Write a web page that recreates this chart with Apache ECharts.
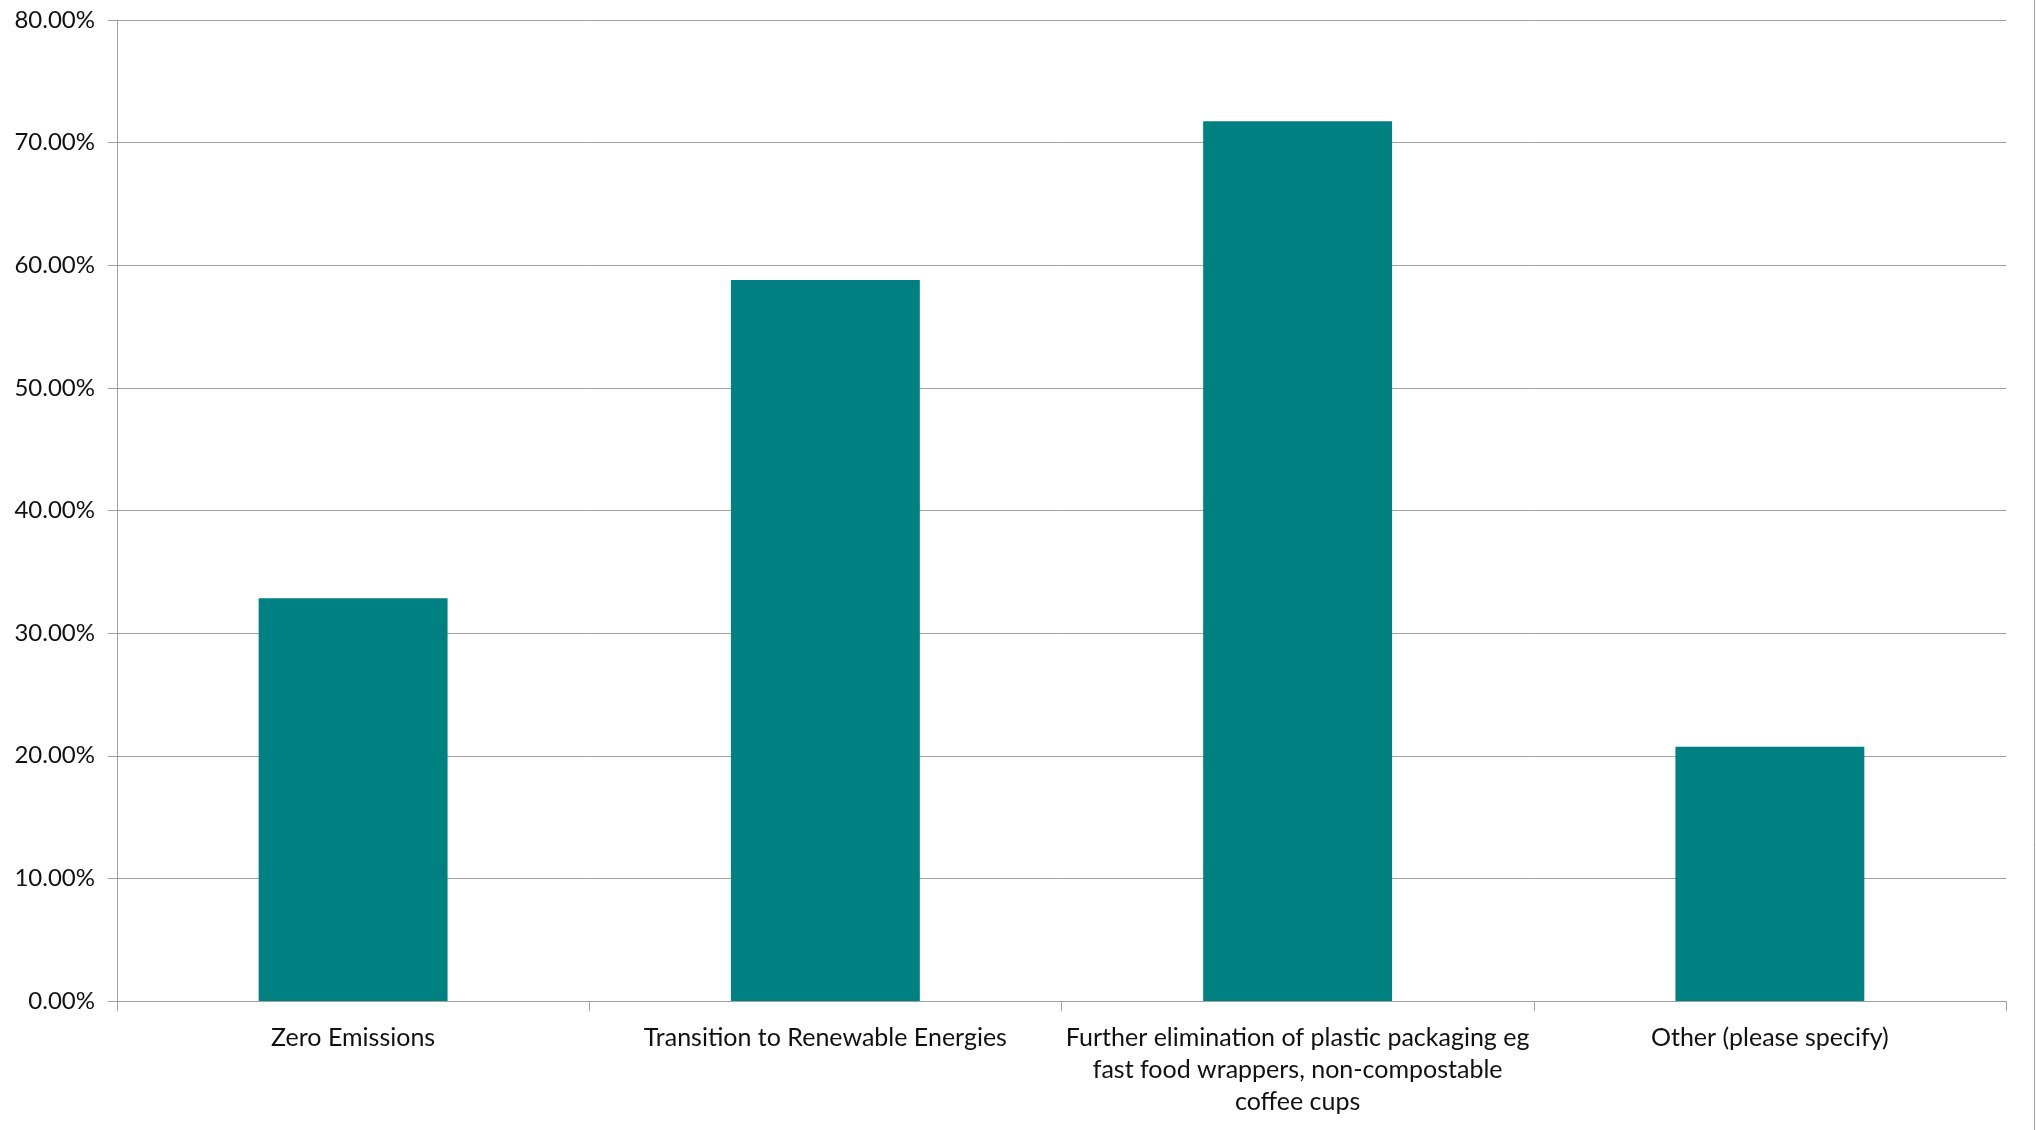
<!DOCTYPE html>
<html>
<head>
<meta charset="utf-8">
<script src="https://cdn.jsdelivr.net/npm/echarts@6/dist/echarts.min.js"></script>
<style>
html,body{margin:0;padding:0;background:#fff;}
#chart{width:2036px;height:1130px;}
</style>
</head>
<body>
<div id="chart"></div>
<script>
var categories = [
  "Zero Emissions",
  "Transition to Renewable Energies",
  "Further elimination of plastic packaging eg\nfast food wrappers, non-compostable\ncoffee cups",
  "Other (please specify)"
];
var values = [32.85, 58.79, 71.74, 20.74];
var yMin = 0, yMax = 80, yStep = 10;

var FONT = "Lato, 'Open Sans', sans-serif";
var chart = echarts.init(document.getElementById('chart'), null, {renderer: 'canvas'});
chart.setOption({
  animation: false,
  backgroundColor: '#ffffff',
  grid: {left: 117, right: 30, top: 20, bottom: 129, containLabel: false},
  xAxis: {
    type: 'category',
    data: categories,
    boundaryGap: true,
    axisLine: {show: true, lineStyle: {color: '#a0a0a0', width: 1}},
    axisTick: {show: true, length: 10, lineStyle: {color: '#a0a0a0'}},
    axisLabel: {
      interval: 0, margin: 21, color: '#111111',
      fontFamily: FONT, fontSize: 25, lineHeight: 32, align: 'center'
    },
    splitLine: {show: false}
  },
  yAxis: {
    type: 'value',
    min: yMin, max: yMax, interval: yStep,
    axisLine: {show: true, lineStyle: {color: '#a0a0a0', width: 1}},
    axisTick: {show: true, length: 9, lineStyle: {color: '#a0a0a0'}},
    axisLabel: {
      margin: 22, color: '#111111', fontFamily: FONT, fontSize: 24,
      formatter: function (v) { return v.toFixed(2) + '%'; }
    },
    splitLine: {show: true, lineStyle: {color: '#a0a0a0', width: 1}}
  },
  series: [{
    type: 'bar',
    data: values,
    barWidth: '40%',
    itemStyle: {color: '#008080'}
  }],
  graphic: [{
    type: 'line',
    shape: {x1: 2034.5, y1: 0, x2: 2034.5, y2: 1130},
    style: {stroke: '#a0a0a0', lineWidth: 1}
  }]
});
</script>
</body>
</html>
